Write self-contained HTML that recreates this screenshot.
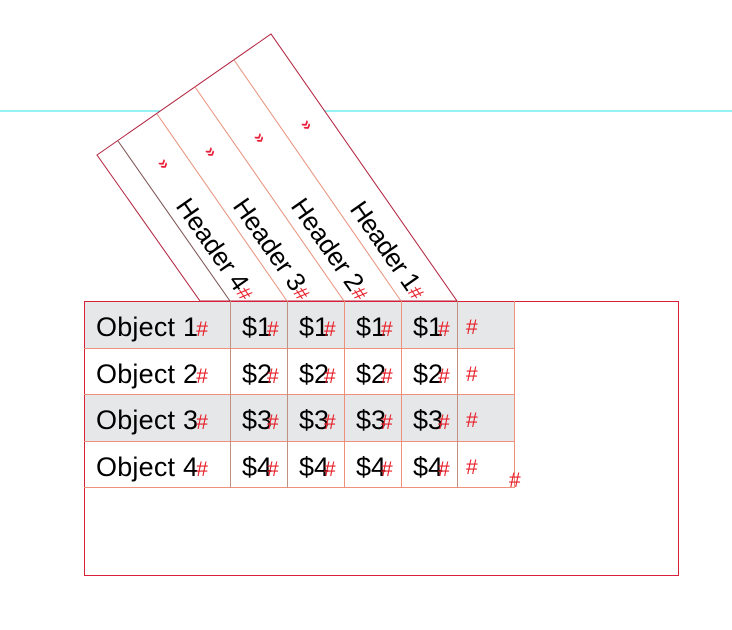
<!DOCTYPE html>
<html><head><meta charset="utf-8"><style>
html,body{margin:0;padding:0;background:#fff;}
svg{display:block}
text{font-family:"Liberation Sans",sans-serif;}
</style></head><body>
<svg width="732" height="630" viewBox="0 0 732 630" xmlns="http://www.w3.org/2000/svg">
<line x1="0" y1="111" x2="732" y2="111" stroke="#2ee6e6" stroke-width="1"/>
<polygon points="97,155 271,34 457,301 200,301" fill="#fff" stroke="#b0203a" stroke-width="1"/>
<g stroke="#e8907a" stroke-width="1">
<line x1="118" y1="141" x2="230" y2="301" stroke="#7a5050"/>
<line x1="157" y1="114" x2="287" y2="301"/>
<line x1="195" y1="87" x2="344" y2="301"/>
<line x1="234" y1="60" x2="401" y2="301"/>
</g>
<g fill="#e8203a" font-size="17" font-weight="bold">
<text transform="translate(157,163) rotate(55)">»</text>
<text transform="translate(204,151) rotate(55)">»</text>
<text transform="translate(253,137) rotate(55)">»</text>
<text transform="translate(300,124) rotate(55)">»</text>
</g>
<g font-size="26" fill="#000">
<text transform="translate(175,206) rotate(55)"><tspan textLength="106">Header 4</tspan><tspan fill="#e8202a" font-size="20">#</tspan></text>
<text transform="translate(232,206) rotate(55)"><tspan textLength="106">Header 3</tspan><tspan fill="#e8202a" font-size="20">#</tspan></text>
<text transform="translate(290,206) rotate(55)"><tspan textLength="106">Header 2</tspan><tspan fill="#e8202a" font-size="20">#</tspan></text>
<text transform="translate(349,209) rotate(55)"><tspan textLength="102">Header 1</tspan><tspan fill="#e8202a" font-size="20">#</tspan></text>
</g>
<rect x="84.5" y="301.5" width="594" height="274" fill="none" stroke="#d8203a" stroke-width="1"/>
<rect x="85" y="302" width="429" height="46" fill="#e6e7e8"/>
<rect x="85" y="394" width="429" height="47" fill="#e6e7e8"/>
<g stroke="#f0907a" stroke-width="1">
<line x1="84" y1="348.5" x2="514" y2="348.5"/>
<line x1="84" y1="394.5" x2="514" y2="394.5"/>
<line x1="84" y1="441.5" x2="514" y2="441.5"/>
<line x1="84" y1="487.5" x2="514" y2="487.5"/>
<line x1="230.5" y1="301" x2="230.5" y2="488" stroke="#c09080"/>
<line x1="287.5" y1="301" x2="287.5" y2="488" stroke="#c09080"/>
<line x1="344.5" y1="301" x2="344.5" y2="488"/>
<line x1="401.5" y1="301" x2="401.5" y2="488"/>
<line x1="457.5" y1="301" x2="457.5" y2="488" stroke="#c09080"/>
<line x1="514.5" y1="301" x2="514.5" y2="488"/>
</g>
<g font-size="27" fill="#000">
<text x="96" y="336"><tspan textLength="102">Object 1</tspan><tspan fill="#e8202a" font-size="21" dx="-2">#</tspan></text>
<text x="96" y="383"><tspan textLength="102">Object 2</tspan><tspan fill="#e8202a" font-size="21" dx="-2">#</tspan></text>
<text x="96" y="429"><tspan textLength="102">Object 3</tspan><tspan fill="#e8202a" font-size="21" dx="-2">#</tspan></text>
<text x="96" y="476"><tspan textLength="102">Object 4</tspan><tspan fill="#e8202a" font-size="21" dx="-2">#</tspan></text>
</g>
<g font-size="27" fill="#000">
<text x="242" y="336">$1<tspan fill="#e8202a" font-size="21" dx="-5">#</tspan></text>
<text x="299" y="336">$1<tspan fill="#e8202a" font-size="21" dx="-5">#</tspan></text>
<text x="356" y="336">$1<tspan fill="#e8202a" font-size="21" dx="-5">#</tspan></text>
<text x="413" y="336">$1<tspan fill="#e8202a" font-size="21" dx="-5">#</tspan></text>
<text x="242" y="383">$2<tspan fill="#e8202a" font-size="21" dx="-5">#</tspan></text>
<text x="299" y="383">$2<tspan fill="#e8202a" font-size="21" dx="-5">#</tspan></text>
<text x="356" y="383">$2<tspan fill="#e8202a" font-size="21" dx="-5">#</tspan></text>
<text x="413" y="383">$2<tspan fill="#e8202a" font-size="21" dx="-5">#</tspan></text>
<text x="242" y="429">$3<tspan fill="#e8202a" font-size="21" dx="-5">#</tspan></text>
<text x="299" y="429">$3<tspan fill="#e8202a" font-size="21" dx="-5">#</tspan></text>
<text x="356" y="429">$3<tspan fill="#e8202a" font-size="21" dx="-5">#</tspan></text>
<text x="413" y="429">$3<tspan fill="#e8202a" font-size="21" dx="-5">#</tspan></text>
<text x="242" y="476">$4<tspan fill="#e8202a" font-size="21" dx="-5">#</tspan></text>
<text x="299" y="476">$4<tspan fill="#e8202a" font-size="21" dx="-5">#</tspan></text>
<text x="356" y="476">$4<tspan fill="#e8202a" font-size="21" dx="-5">#</tspan></text>
<text x="413" y="476">$4<tspan fill="#e8202a" font-size="21" dx="-5">#</tspan></text>
</g>
<g font-size="21" fill="#e8202a">
<text x="466" y="334">#</text>
<text x="466" y="381">#</text>
<text x="466" y="427">#</text>
<text x="466" y="474">#</text>
<text x="509" y="487">#</text>
</g>
</svg>
</body></html>
